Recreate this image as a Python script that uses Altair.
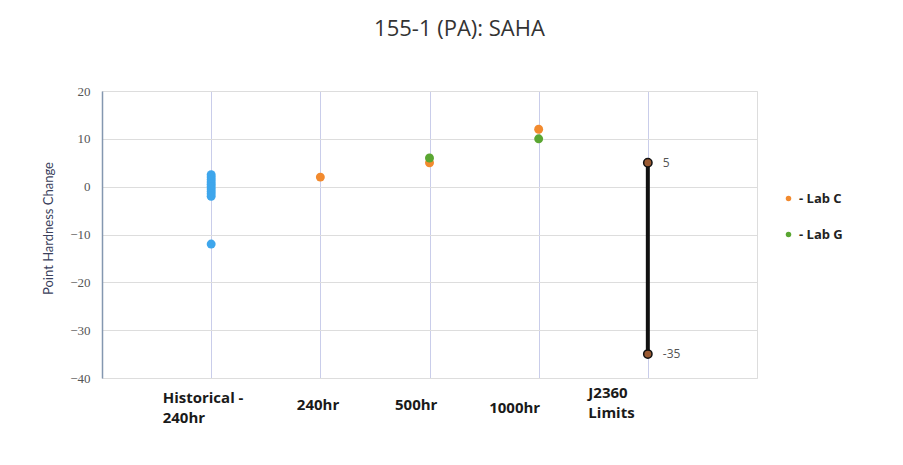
import altair as alt
import pandas as pd

categories = ["Historical - 240hr", "240hr", "500hr", "1000hr", "J2360 Limits"]

hist_values = [2.5, 2, 1.5, 1, 0.5, 0, -0.5, -1, -1.5, -2, -12]
labc_cats = ["240hr", "500hr", "1000hr"]
labc_values = [2, 5, 12]
labg_cats = ["500hr", "1000hr"]
labg_values = [6, 10]
limit_values = [5, -35]
limit_labels = ["5", "-35"]

rows = []
for v in hist_values:
    rows.append({"cat": categories[0], "val": v, "series": "Historical"})
for c, v in zip(labc_cats, labc_values):
    rows.append({"cat": c, "val": v, "series": "Lab C"})
for c, v in zip(labg_cats, labg_values):
    rows.append({"cat": c, "val": v, "series": "Lab G"})
pts = pd.DataFrame(rows)

lim = pd.DataFrame({"cat": [categories[4]] * 2, "val": limit_values, "lab": limit_labels})

label_expr = ("datum.label == 'Historical - 240hr' ? ['Historical -', '240hr'] : "
              "datum.label == 'J2360 Limits' ? ['J2360', 'Limits'] : datum.label")

label_offset = {
    "condition": [
        {"test": "datum.value == 'Historical - 240hr'", "value": -49},
        {"test": "datum.value == '240hr'", "value": -24},
        {"test": "datum.value == '500hr'", "value": -35},
        {"test": "datum.value == '1000hr'", "value": -50},
    ],
    "value": -60,
}
label_padding = {
    "condition": [
        {"test": "datum.value == 'Historical - 240hr'", "value": 19},
        {"test": "datum.value == 'J2360 Limits'", "value": 14},
        {"test": "datum.value == '1000hr'", "value": 29},
    ],
    "value": 26,
}

x_enc = alt.X("cat:N", sort=categories,
              scale=alt.Scale(type="point", padding=1, domain=categories),
              axis=alt.Axis(title=None, labelAngle=0, labelExpr=label_expr,
                            labelFont="Open Sans", labelFontWeight="bold", labelFontSize=15,
                            labelColor="#1a1a1a", labelBaseline="middle", labelPadding=label_padding,
                            labelLineHeight=20, labelAlign="left", labelOffset=label_offset,
                            ticks=False, domain=False,
                            grid=True, gridColor="#c9cdea", gridWidth=1))
y_enc = alt.Y("val:Q", scale=alt.Scale(domain=[-40, 20], nice=False),
              axis=alt.Axis(title="Point Hardness Change", values=[-40, -30, -20, -10, 0, 10, 20],
                            titleFont="Lato", titleFontSize=13, titleFontWeight="normal",
                            titleColor="#3a3f5c", titlePadding=14, titleY=137,
                            labelFont="Liberation Serif", labelFontSize=13, labelColor="#555555",
                            labelPadding=12, ticks=False, domain=True, domainColor="#8497b0",
                            domainWidth=1.5, grid=True, gridColor="#dddddd", gridWidth=1))

base_pts = alt.Chart(pts).mark_point(filled=True, size=80, opacity=1, shape="circle").encode(
    x=x_enc, y=y_enc,
    color=alt.Color("series:N",
                    scale=alt.Scale(domain=["Historical", "Lab C", "Lab G"],
                                    range=["#3ea6ec", "#f28a2e", "#5aa632"]),
                    legend=alt.Legend(title=None, values=["Lab C", "Lab G"],
                                      labelExpr="'- ' + datum.label",
                                      orient="none", legendX=680, legendY=101,
                                      symbolType="circle", symbolSize=30,
                                      labelFont="Open Sans", labelFontSize=13,
                                      labelFontWeight="bold", labelColor="#222222",
                                      rowPadding=22, symbolStrokeWidth=0)),
)

lim_line = alt.Chart(lim).mark_line(color="#111111", strokeWidth=4).encode(
    x=alt.X("cat:N", sort=categories), y=alt.Y("val:Q"))
lim_pts = alt.Chart(lim).mark_point(filled=True, size=70, color="#9a5a32", stroke="#111111",
                                    strokeWidth=1.5, opacity=1).encode(
    x=alt.X("cat:N", sort=categories), y=alt.Y("val:Q"))
lim_txt = alt.Chart(lim).mark_text(align="left", dx=15, font="Open Sans", fontSize=12,
                                   color="#555555").encode(
    x=alt.X("cat:N", sort=categories), y=alt.Y("val:Q"), text="lab:N")

chart = alt.layer(base_pts, lim_line, lim_pts, lim_txt).properties(
    width=655, height=287,
    title=alt.TitleParams("155-1 (PA): SAHA", font="Open Sans", fontSize=22, fontWeight="normal",
                          color="#333333", anchor="middle", offset=44, dx=30),
    autosize=alt.AutoSizeParams(type="none"),
    padding={"left": 94, "top": 83, "right": 138, "bottom": 79},
).configure_view(stroke="#c9cdea", strokeWidth=1).configure(background="white")

chart.save("out.html", embed_options={"renderer": "svg", "actions": False})
